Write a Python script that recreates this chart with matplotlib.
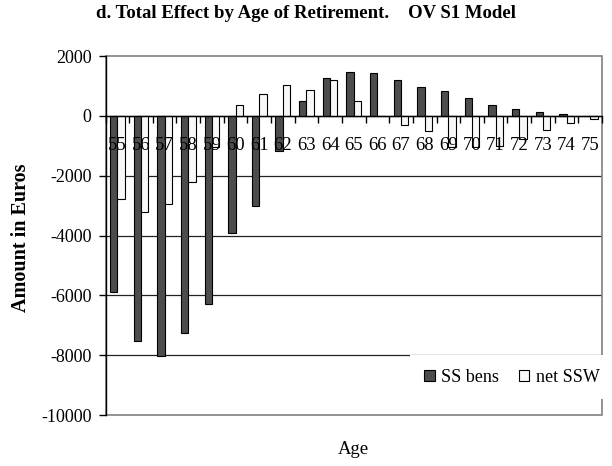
import matplotlib.pyplot as plt
import numpy as np
from matplotlib.patches import Rectangle

plt.rcParams['font.family'] = ['Liberation Serif', 'DejaVu Serif']

ages = [str(a) for a in range(55, 76)]
ss_bens = [-5900, -7520, -8030, -7270, -6300, -3930, -3020, -1190, 490, 1280, 1470,
           1430, 1200, 980, 830, 600, 370, 220, 120, 60, 0]
net_ssw = [-2790, -3220, -2940, -2220, -1050, 370, 720, 1020, 870, 1200, 490,
           -20, -320, -510, -1050, -1050, -1010, -770, -470, -240, -100]
y_ticks = [2000, 0, -2000, -4000, -6000, -8000, -10000]

fig = plt.figure(figsize=(6.12, 4.66), dpi=100)
ax = fig.add_axes([105.5 / 612, 1 - 415 / 466, (602 - 105.5) / 612, (415 - 56) / 466])

x = np.arange(len(ages))
w = 0.31
ax.bar(x - w / 2, ss_bens, w, color='#4d4d4d', edgecolor='black', linewidth=0.8,
       label='SS bens', zorder=2)
ax.bar(x + w / 2, net_ssw, w, color='#f8f8f8', edgecolor='black', linewidth=0.8,
       label='net SSW', zorder=2)

ax.set_xlim(-0.5, len(ages) - 0.5)
ax.set_ylim(-10000, 2000)

# gridlines behind the bars
for v in y_ticks[1:-1]:
    ax.axhline(v, color='#222222', linewidth=0.9, zorder=1)

# frame: gray box, black left axis, black x axis through zero
for s in ['top', 'right']:
    ax.spines[s].set_visible(False)
ax.spines['bottom'].set_position(('data', 0))
ax.spines['bottom'].set_linewidth(1.0)
ax.spines['left'].set_linewidth(1.0)
ax.add_patch(Rectangle((0, 0), 1, 1, transform=ax.transAxes, fill=False,
                       edgecolor='#808080', linewidth=1.2, zorder=1, clip_on=False))

ax.set_yticks(y_ticks)
ax.set_yticklabels([f'{v}' for v in y_ticks])
ax.tick_params(axis='y', direction='out', length=5, width=1, labelsize=13, pad=5)

ax.set_xticks(np.arange(len(ages) + 1) - 0.5)
ax.set_xticklabels([])
ax.set_xticks(x, minor=True)
ax.set_xticklabels(ages, minor=True)
ax.tick_params(axis='x', which='major', direction='out', length=5, width=1)
ax.tick_params(axis='x', which='minor', length=0, labelsize=13.5, pad=15)
ax.xaxis.set_zorder(4)
ax.yaxis.set_zorder(4)

leg = ax.legend(loc='center', bbox_to_anchor=(0.818, 0.105), ncol=2, fontsize=13,
                frameon=True, fancybox=False, edgecolor='none', facecolor='white',
                framealpha=1, handlelength=0.6, handleheight=0.6, handletextpad=0.35,
                columnspacing=1.1, borderpad=0.75)
leg.set_zorder(5)

fig.text(306 / 612, 1 - 14 / 466, 'd. Total Effect by Age of Retirement.    OV S1 Model',
         ha='center', va='center', fontsize=13.5, fontweight='bold')
fig.text(21 / 612, 1 - 238 / 466, 'Amount in Euros', rotation=90, ha='center',
         va='center', fontsize=14.5, fontweight='bold')
fig.text(353 / 612, 1 - 450 / 466, 'Age', ha='center', va='center', fontsize=13.5)

fig.savefig('out.png', dpi=100)
